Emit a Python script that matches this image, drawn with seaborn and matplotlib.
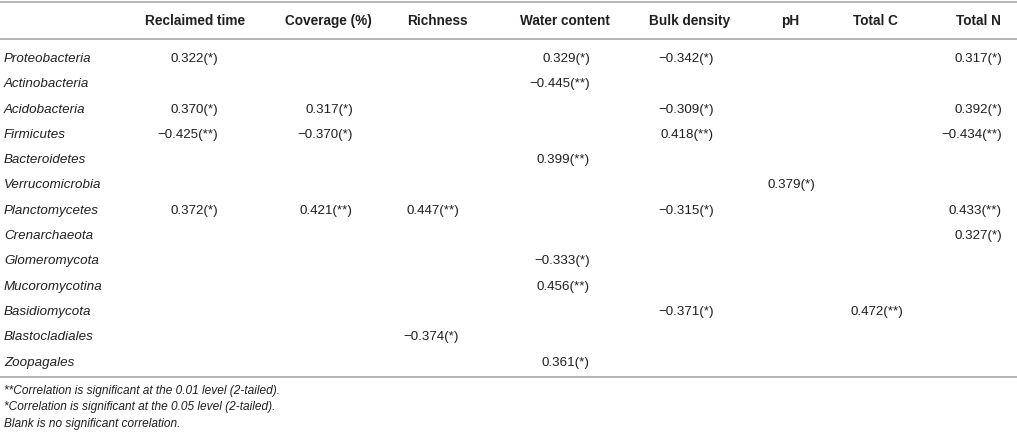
import matplotlib
matplotlib.use("Agg")
import matplotlib.pyplot as plt
import seaborn as sns

sns.set_style('white')
plt.rcParams['font.family'] = ['Liberation Sans', 'DejaVu Sans']

# table content
phyla = ["Proteobacteria", "Actinobacteria", "Acidobacteria", "Firmicutes",
         "Bacteroidetes", "Verrucomicrobia", "Planctomycetes", "Crenarchaeota",
         "Glomeromycota", "Mucoromycotina", "Basidiomycota", "Blastocladiales",
         "Zoopagales"]
headers = ["Reclaimed time", "Coverage (%)", "Richness", "Water content",
           "Bulk density", "pH", "Total C", "Total N"]

reclaimed_time = ["0.322(*)", "", "0.370(*)", "\u22120.425(**)", "", "", "0.372(*)",
                  "", "", "", "", "", ""]
coverage = ["", "", "0.317(*)", "\u22120.370(*)", "", "", "0.421(**)",
            "", "", "", "", "", ""]
richness = ["", "", "", "", "", "", "0.447(**)",
            "", "", "", "", "\u22120.374(*)", ""]
water_content = ["0.329(*)", "\u22120.445(**)", "", "", "0.399(**)", "", "",
                 "", "\u22120.333(*)", "0.456(**)", "", "", "0.361(*)"]
bulk_density = ["\u22120.342(*)", "", "\u22120.309(*)", "0.418(**)", "", "", "\u22120.315(*)",
                "", "", "", "\u22120.371(*)", "", ""]
ph = ["", "", "", "", "", "0.379(*)", "",
      "", "", "", "", "", ""]
total_c = ["", "", "", "", "", "", "",
           "", "", "", "0.472(**)", "", ""]
total_n = ["0.317(*)", "", "0.392(*)", "\u22120.434(**)", "", "", "0.433(**)",
           "0.327(*)", "", "", "", "", ""]

columns = [reclaimed_time, coverage, richness, water_content,
           bulk_density, ph, total_c, total_n]

notes = ["**Correlation is significant at the 0.01 level (2-tailed).",
         "*Correlation is significant at the 0.05 level (2-tailed).",
         "Blank is no significant correlation."]

# layout (pixels)
W, H = 1017, 439
value_right = [218, 353, 459, 590, 714, 815, 903, 1002]
header_x = [195, 328, 437, 565, 690, 790, 875, 978]
row_y0, row_step = 59, 25.3
txt = '#231f20'
rule = '#b4b4b4'

fig, ax = plt.subplots(figsize=(W / 100, H / 100), dpi=100)
ax.set_position([0, 0, 1, 1])
ax.set_xlim(0, W)
ax.set_ylim(H, 0)
ax.axis('off')

for yl in [3, 40, 378]:
    ax.axhline(yl, color=rule, lw=1.4)

for x, h in zip(header_x, headers):
    ax.text(x, 21, h, ha='center', va='center', fontsize=9.8,
            fontweight='bold', color=txt)

for i, name in enumerate(phyla):
    y = row_y0 + i * row_step
    ax.text(4, y, name, ha='left', va='center', fontsize=9.6,
            style='italic', color=txt)
    for xr, col in zip(value_right, columns):
        if col[i]:
            ax.text(xr, y, col[i], ha='right', va='center', fontsize=9.6,
                    color=txt)

for k, note in enumerate(notes):
    ax.text(4, 391 + k * 16.5, note, ha='left', va='center', fontsize=8.6,
            style='italic', color=txt)

fig.savefig('out.png', dpi=100)
